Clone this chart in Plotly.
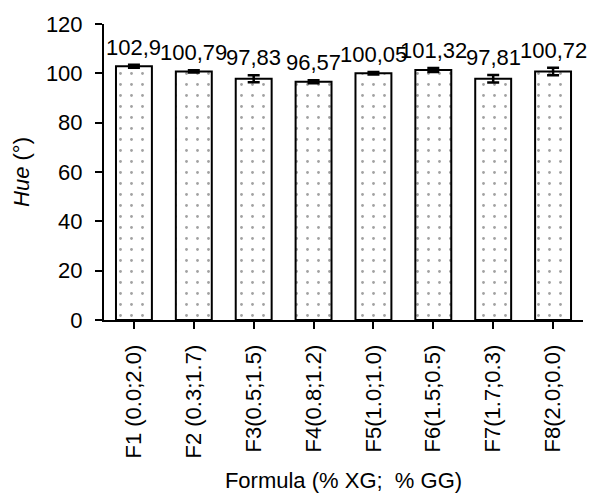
import plotly.graph_objects as go

categories = ["F1 (0.0;2.0)", "F2 (0.3;1.7)", "F3(0.5;1.5)", "F4(0.8;1.2)",
              "F5(1.0;1.0)", "F6(1.5;0.5)", "F7(1.7;0.3)", "F8(2.0;0.0)"]
hue = [102.9, 100.79, 97.83, 96.57, 100.05, 101.32, 97.81, 100.72]
err = [0.6, 0.5, 1.4, 0.6, 0.5, 0.8, 1.5, 1.5]
y_ticks = [0, 20, 40, 60, 80, 100, 120]

FONT = "Liberation Sans"
FS = 22

fig = go.Figure()
fig.add_trace(go.Bar(
    x=categories, y=hue, width=0.6,
    marker=dict(color="white", line=dict(color="black", width=2),
                pattern=dict(shape=".", fgcolor="#444444", bgcolor="white",
                             size=11, solidity=0.05, fillmode="overlay")),
    error_y=dict(type="data", array=err, visible=True, color="black",
                 thickness=2.5, width=6),
    showlegend=False,
))

for c, v, e in zip(categories, hue, err):
    fig.add_annotation(x=c, y=v + e, text=str(v).replace(".", ","),
                       showarrow=False, yanchor="bottom", yshift=3,
                       font=dict(family=FONT, size=FS, color="black"))

fig.add_shape(type="line", xref="paper", yref="y", x0=-0.013, x1=0, y0=0, y1=0,
              line=dict(color="black", width=2))

fig.update_layout(
    width=608, height=493,
    margin=dict(l=104, r=25, t=24, b=173, autoexpand=False),
    paper_bgcolor="white", plot_bgcolor="white",
    font=dict(family=FONT, size=FS, color="black"),
    xaxis=dict(
        range=[-0.5, 7.5], showline=True, linecolor="black", linewidth=2,
        ticks="outside", ticklen=7, tickwidth=2, tickcolor="black",
        tickangle=-90, tickfont=dict(size=FS), ticklabelstandoff=7,
        automargin=False,
        title=dict(text="Formula (% XG;  % GG)", font=dict(size=FS), standoff=17),
        showgrid=False, zeroline=False,
    ),
    yaxis=dict(
        range=[0, 120], tickvals=y_ticks, showline=True, linecolor="black",
        linewidth=2, ticks="outside", ticklen=7, tickwidth=2, tickcolor="black",
        tickfont=dict(size=FS), showgrid=False, zeroline=False, ticklabelstandoff=8,
        automargin=False,
        title=dict(text="<i>Hue</i> (°)", font=dict(size=FS), standoff=10),
    ),
)

fig.write_html("out.html")
